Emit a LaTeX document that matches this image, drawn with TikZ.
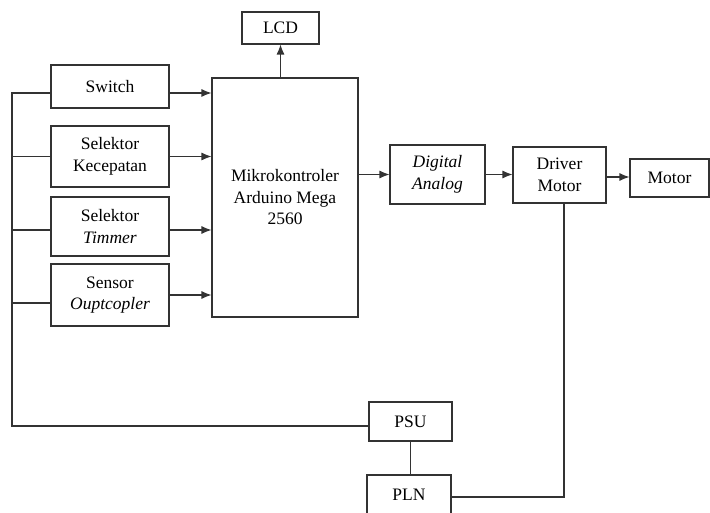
\documentclass[tikz,border=0pt]{standalone}
\usepackage{fontspec}
\setmainfont{Liberation Serif}
\usepackage{tikz}
\usetikzlibrary{arrows.meta}
\tikzset{blok/.style={draw=black!80, line width=1.1pt, inner sep=0pt, align=center, font=\fontsize{17.5}{21.5}\selectfont},
  garis/.style={draw=black!80, line width=1.1pt},
  panah/.style={garis, -{Latex[length=10pt,width=8pt]}}}
\newcommand{\blok}[6]{ \node[blok, minimum width=#4pt, minimum height=#5pt] (#1) at ( #2 , #3 ) {#6};}

\begin{document}
\begin{tikzpicture}[x=1pt,y=-1pt]
\useasboundingbox (0,0) rectangle (710,513);
% input blocks
\blok{sw}{110}{86.5}{118}{43}{Switch}
\blok{kec}{110}{156.5}{118}{61}{Selektor\\Kecepatan}
\blok{tim}{110}{226.5}{118}{59}{Selektor\\\textit{Timmer}}
\blok{sen}{110}{295}{118}{62}{Sensor\\\textit{Ouptcopler}}
% controller and output blocks
\blok{mcu}{285}{197.5}{146}{239}{Mikrokontroler\\Arduino Mega\\2560}
\blok{lcd}{280.5}{28}{77}{32}{LCD}
\blok{da}{437.5}{174.5}{95}{59}{\textit{Digital}\\\textit{Analog}}
\blok{drv}{559.5}{175}{93}{56}{Driver\\Motor}
\blok{mot}{669.5}{178}{79}{38}{Motor}
% power blocks
\blok{psu}{410.5}{421.5}{83}{39}{PSU}
\blok{pln}{409}{495}{84}{40}{PLN}
% inputs into controller
\draw[panah] ([yshift=-6.5pt]sw.east) coordinate (a1) -- (a1 -| mcu.west);
\draw[panah] (kec.east) -- (kec.east -| mcu.west);
\draw[panah] ([yshift=-3.5pt]tim.east) coordinate (a3) -- (a3 -| mcu.west);
\draw[panah] (sen.east) -- (sen.east -| mcu.west);
\draw[panah] (mcu.north -| lcd.south) -- (lcd.south);
% output chain
\draw[panah] (da.west -| mcu.east) -- (da.west);
\draw[panah] (da.east) -- (da.east -| drv.west);
\draw[panah] ([yshift=-2pt]drv.east) coordinate (a4) -- (a4 -| mot.west);
% power lines
\coordinate (bustop) at (12,93);
\coordinate (busbot) at (12,426);
\draw[garis] (sw.west |- bustop) -- (bustop) -- (busbot) -- (psu.west |- busbot);
\draw[garis] (kec.west) -- (kec.west -| bustop);
\draw[garis] ([yshift=-3.5pt]tim.west) coordinate (b3) -- (b3 -| bustop);
\draw[garis] ([yshift=-8pt]sen.west) coordinate (b4) -- (b4 -| bustop);
\draw[garis] (psu.south) -- (psu.south |- pln.north);
\draw[garis] ([yshift=-2pt]pln.east) -| ([xshift=4.5pt]drv.south);
\end{tikzpicture}
\end{document}
